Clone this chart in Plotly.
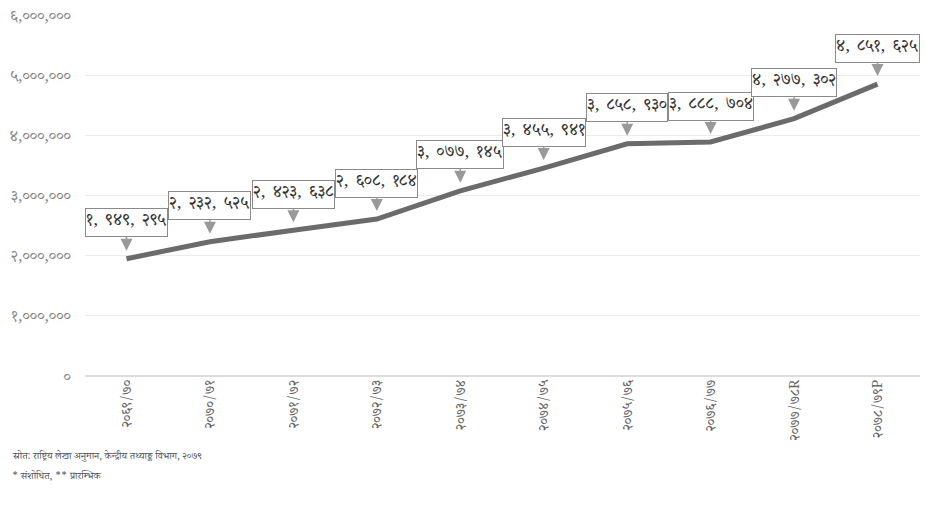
import plotly.graph_objects as go

years = ["२०६९/७०", "२०७०/७१", "२०७१/७२", "२०७२/७३", "२०७३/७४",
         "२०७४/७५", "२०७५/७६", "२०७६/७७", "२०७७/७८R", "२०७८/७९P"]
values = [1949295, 2232525, 2423638, 2608184, 3077145,
          3455941, 3858930, 3888704, 4277302, 4851625]
y_ticks = [0, 1000000, 2000000, 3000000, 4000000, 5000000, 6000000]
notes = ["स्रोत: राष्ट्रिय लेखा अनुमान, केन्द्रीय तथ्याङ्क विभाग, २०७९",
         "* संशोधित, ** प्रारम्भिक"]

DEV = str.maketrans("0123456789", "०१२३४५६७८९")


def dev(n, sep=",\u2006 "):
    return f"{n:,}".replace(",", sep).translate(DEV)


FONT = "Noto Serif Devanagari, Noto Sans Devanagari, Lohit Devanagari, Noto Sans, sans-serif"

fig = go.Figure()
fig.add_trace(go.Scatter(
    x=years, y=values, mode="lines",
    line=dict(color="#6b6b6b", width=5),
    hoverinfo="skip", showlegend=False,
))

for x, v in zip(years, values):
    fig.add_annotation(
        x=x, y=v, text=dev(v), showarrow=True,
        ax=0, ay=-36, axref="pixel", ayref="pixel",
        arrowhead=2, arrowsize=1.6, arrowwidth=1.5, arrowcolor="#999999",
        standoff=8,
        font=dict(family=FONT, size=17, color="#333333"),
        bgcolor="white", bordercolor="#8a8a8a", borderwidth=1, borderpad=0,
    )

for i, note in enumerate(notes):
    fig.add_annotation(
        xref="paper", yref="paper", x=-0.09, y=-0.226 - 0.055 * i,
        xanchor="left", yanchor="middle", text=note, showarrow=False,
        font=dict(family=FONT, size=10, color="#555555"),
    )

fig.update_layout(
    width=926, height=514,
    margin=dict(l=85, r=6, t=13, b=138),
    paper_bgcolor="white", plot_bgcolor="white",
    font=dict(family=FONT, color="#666666"),
    xaxis=dict(
        type="category", tickangle=-90, showgrid=False, showline=False,
        ticks="", tickfont=dict(size=14, color="#666666"),
    ),
    yaxis=dict(
        range=[0, 6000000], tickvals=y_ticks,
        ticktext=[dev(t, ",") for t in y_ticks],
        showgrid=True, gridcolor="#ececec", gridwidth=1,
        zeroline=True, zerolinecolor="#dcdcdc", zerolinewidth=2,
        tickfont=dict(size=16, color="#8a8a8a"), ticklabelstandoff=13,
    ),
)

fig.write_html("out.html", config={"displayModeBar": False},
               post_script="document.body.style.margin='0';")
